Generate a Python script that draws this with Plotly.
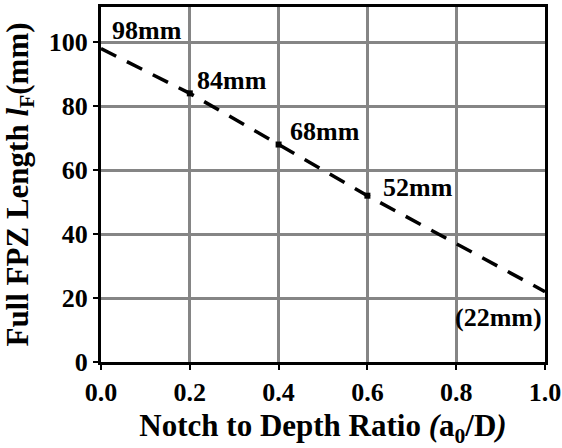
import plotly.graph_objects as go

ratio = [0.0, 0.2, 0.4, 0.6, 0.8, 1.0]
fpz_len = [98, 84, 68, 52, 37, 22]

labels = ["98mm", "84mm", "68mm", "52mm", "(22mm)"]
label_x = [0.104, 0.296, 0.505, 0.715, 0.895]
label_y = [103.7, 88, 72, 54.7, 14]

x_ticks = [0.0, 0.2, 0.4, 0.6, 0.8, 1.0]
x_ticktext = ["0.0", "0.2", "0.4", "0.6", "0.8", "1.0"]
y_ticks = [0, 20, 40, 60, 80, 100]

FONT = "Liberation Serif"

fig = go.Figure()
fig.add_trace(go.Scatter(
    x=ratio, y=fpz_len, mode="lines",
    line=dict(color="black", width=3.5, dash="17px,12px"),
    showlegend=False, hoverinfo="skip"
))
fig.add_trace(go.Scatter(
    x=ratio[1:4], y=fpz_len[1:4], mode="markers",
    marker=dict(symbol="square", size=6, color="black"),
    showlegend=False, hoverinfo="skip"
))

for t, x, y in zip(labels, label_x, label_y):
    fig.add_annotation(x=x, y=y, text="<b>" + t + "</b>", showarrow=False,
                       font=dict(family=FONT, size=26, color="black"))

axis_common = dict(
    showline=True, linecolor="black", linewidth=3, mirror=True,
    showgrid=True, gridcolor="#858585", gridwidth=2.5,
    ticks="outside", ticklen=5, tickwidth=2, tickcolor="black",
    zeroline=False, automargin=False,
    tickfont=dict(family=FONT, size=26, color="black", weight="bold"),
)

fig.update_xaxes(range=[0, 1], tickvals=x_ticks, ticktext=x_ticktext,
                 title=dict(text="<b>Notch to Depth Ratio <i>(</i>a<sub>0</sub>/D<i>)</i></b>",
                            font=dict(family=FONT, size=31, color="black"), standoff=12),
                 **axis_common)
fig.update_yaxes(range=[0, 111], tickvals=y_ticks,
                 title=dict(text="<b>Full FPZ Length <i>l</i><sub>F</sub>(mm)</b>",
                            font=dict(family=FONT, size=31, color="black"), standoff=12),
                 **axis_common)

fig.update_layout(
    width=562, height=448,
    margin=dict(l=101, r=17, t=7, b=86),
    paper_bgcolor="white", plot_bgcolor="white",
)

fig.write_html("out.html", config={"displayModeBar": False},
               post_script="document.body.style.margin='0';")
